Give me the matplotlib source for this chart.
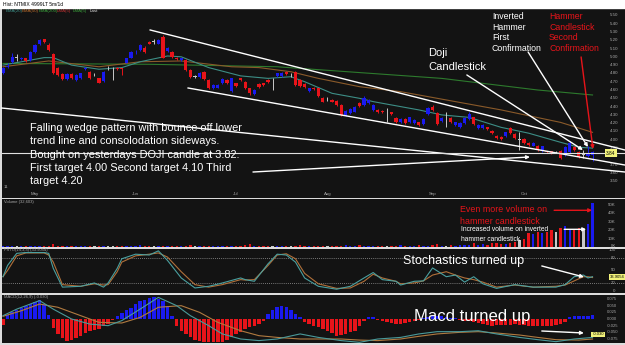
import matplotlib
matplotlib.use('Agg')
import matplotlib.pyplot as plt
from matplotlib.transforms import blended_transform_factory as btf

plt.rcParams['font.family'] = ['Liberation Sans', 'DejaVu Sans']

# ---------------- data ----------------
opens = [4.81,4.88,4.94,4.99,4.97,4.98,4.96,5.06,5.15,5.21,
 5.14,5.03,4.87,4.79,4.73,4.79,4.72,4.74,4.85,4.82,
 4.79,4.74,4.71,4.86,4.86,4.87,4.86,4.93,4.99,5.04,
 5.08,5.11,5.18,5.18,5.16,5.24,5.07,5.06,4.99,4.96,
 4.96,4.84,4.76,4.76,4.82,4.72,4.62,4.63,4.68,4.72,
 4.59,4.68,4.74,4.70,4.62,4.55,4.67,4.68,4.72,4.72,
 4.77,4.77,4.82,4.78,4.82,4.72,4.67,4.59,4.63,4.62,
 4.50,4.49,4.48,4.47,4.42,4.30,4.32,4.34,4.44,4.42,
 4.44,4.36,4.36,4.35,4.32,4.33,4.26,4.21,4.25,4.21,
 4.20,4.21,4.19,4.31,4.40,4.32,4.23,4.25,4.26,4.18,
 4.15,4.20,4.25,4.27,4.14,4.14,4.15,4.11,4.05,4.03,
 4.04,4.14,4.07,4.00,4.01,3.96,3.93,3.93,3.86,3.86,
 3.86,3.85,3.87,3.82,3.85,3.91,3.85,3.82,3.80,3.82]
closes = [4.86,4.89,5.00,4.99,4.99,4.95,5.06,5.14,5.20,5.18,
 5.08,4.80,4.78,4.73,4.79,4.74,4.78,4.80,4.87,4.74,
 4.79,4.69,4.82,4.86,4.86,4.85,4.85,4.98,5.06,5.05,
 5.14,5.06,5.16,5.18,5.20,4.99,5.11,5.00,4.97,4.98,
 4.84,4.76,4.76,4.81,4.73,4.62,4.66,4.66,4.73,4.68,
 4.74,4.65,4.72,4.62,4.56,4.60,4.64,4.66,4.70,4.72,
 4.80,4.81,4.79,4.78,4.66,4.65,4.64,4.62,4.61,4.53,
 4.46,4.49,4.46,4.42,4.30,4.35,4.37,4.40,4.41,4.50,
 4.48,4.42,4.33,4.33,4.32,4.31,4.21,4.25,4.20,4.27,
 4.24,4.18,4.25,4.38,4.36,4.19,4.26,4.25,4.21,4.21,
 4.20,4.26,4.31,4.19,4.18,4.18,4.13,4.08,4.02,4.01,
 4.09,4.08,4.02,4.00,3.96,3.94,3.96,3.88,3.92,3.85,
 3.84,3.85,3.78,3.91,3.96,3.88,3.79,3.82,3.83,3.85]
highs = [4.88,4.92,5.04,5.03,5.00,4.99,5.07,5.16,5.21,5.22,
 5.17,5.04,4.88,4.80,4.80,4.80,4.79,4.81,4.88,4.83,
 4.81,4.75,4.83,4.89,4.88,4.88,4.87,4.99,5.07,5.08,
 5.16,5.13,5.19,5.21,5.22,5.26,5.12,5.07,5.00,4.99,
 4.97,4.85,4.78,4.82,4.83,4.73,4.67,4.67,4.74,4.73,
 4.75,4.69,4.75,4.71,4.63,4.61,4.68,4.69,4.73,4.74,
 4.81,4.82,4.83,4.80,4.83,4.73,4.68,4.63,4.64,4.63,
 4.51,4.51,4.49,4.48,4.43,4.36,4.38,4.41,4.45,4.53,
 4.49,4.43,4.37,4.36,4.38,4.34,4.27,4.26,4.26,4.28,
 4.25,4.22,4.26,4.39,4.42,4.33,4.27,4.33,4.27,4.22,
 4.21,4.27,4.33,4.28,4.19,4.19,4.16,4.12,4.06,4.04,
 4.10,4.15,4.08,4.10,4.02,3.97,3.97,3.94,3.93,3.87,
 3.87,3.86,3.88,3.92,3.98,3.92,3.86,3.88,3.92,3.86]
lows = [4.79,4.86,4.93,4.95,4.96,4.94,4.95,5.05,5.14,5.17,
 5.07,4.79,4.77,4.72,4.72,4.73,4.71,4.73,4.84,4.73,
 4.77,4.68,4.70,4.84,4.72,4.84,4.78,4.92,4.98,5.03,
 5.07,5.05,5.15,5.16,5.15,4.98,5.06,4.99,4.96,4.95,
 4.83,4.75,4.74,4.75,4.72,4.61,4.61,4.62,4.67,4.67,
 4.58,4.64,4.71,4.61,4.54,4.54,4.63,4.65,4.69,4.60,
 4.76,4.76,4.78,4.76,4.65,4.64,4.63,4.58,4.60,4.52,
 4.45,4.47,4.45,4.41,4.29,4.29,4.31,4.33,4.40,4.41,
 4.43,4.35,4.32,4.32,4.22,4.30,4.20,4.20,4.19,4.20,
 4.19,4.17,4.18,4.30,4.35,4.18,4.22,4.15,4.20,4.17,
 4.14,4.19,4.24,4.18,4.13,4.13,4.12,4.07,4.01,4.00,
 4.03,4.07,4.01,3.88,3.95,3.93,3.92,3.87,3.85,3.84,
 3.83,3.84,3.77,3.81,3.84,3.87,3.78,3.78,3.79,3.75]

volume_k = [1.2,0.8,1.5,0.6,1.0,0.9,1.1,0.7,1.3,0.9,
 1.4,3.1,1.0,1.2,1.6,0.8,0.9,1.1,0.7,1.0,
 0.9,1.2,0.8,1.0,0.6,0.9,1.1,0.8,1.3,0.9,
 2.2,1.0,1.4,0.9,1.2,0.8,1.5,1.1,0.9,0.7,
 1.3,2.5,1.0,0.8,1.2,1.6,0.9,1.1,0.7,1.0,
 1.2,0.8,1.4,1.9,4.0,1.1,1.3,0.9,1.0,1.5,
 1.1,0.8,1.2,1.0,1.4,2.0,1.2,0.9,1.1,1.3,
 0.8,1.0,1.6,1.2,1.0,2.3,1.4,1.1,1.8,1.0,
 1.2,1.5,0.9,1.3,1.1,1.7,1.0,2.1,1.4,1.6,
 1.2,1.8,1.5,1.3,2.0,3.2,1.6,1.4,1.9,1.5,
 2.2,1.8,2.6,4.8,2.4,3.0,2.5,4.2,4.5,3.6,
 3.5,4.8,5.5,8.8,9.6,16.5,15.6,18.0,16.8,17.5,
 19.6,18.0,22.8,24.8,21.0,19.6,22.0,20.5,26.8,52.8]

# moving averages (bar index, price)
ema20_idx = [0, 9, 11, 15, 21, 26, 30, 36, 39, 45, 52, 58, 63, 66, 72, 78, 81, 87, 91, 96, 102, 109, 115, 122, 126, 129]
ema20_val = [4.90, 4.99, 4.99, 4.90, 4.85, 4.87, 4.94, 5.01, 5.00, 4.87, 4.77, 4.74, 4.76, 4.70, 4.56, 4.50, 4.46, 4.40, 4.36, 4.30, 4.27, 4.15, 4.08, 3.97, 3.91, 3.90]
ema50_idx = [0, 10, 21, 30, 39, 50, 56, 63, 69, 78, 87, 96, 109, 122, 129]
ema50_val = [4.88, 4.95, 4.88, 4.94, 4.95, 4.88, 4.87, 4.82, 4.74, 4.64, 4.58, 4.49, 4.36, 4.21, 4.09]
ema200_idx = [0, 32, 60, 96, 117, 129]
ema200_val = [4.92, 4.91, 4.88, 4.74, 4.60, 4.54]

# stochastics (bar index, %K, %D)
sto_idx = [0,1,3,5,9,10,11,13,17,20,22,23,25,26,29,32,34,36,39,42,45,48,52,53,55,58,60,62,64,66,
           69,73,76,79,81,83,86,87,90,92,94,97,99,101,103,105,108,112,116,121,123,125,127,128,129]
sto_k = [35,62,91,93,93,91,55,10,12,20,10,20,55,78,89,87,97,74,32,8,12,20,32,28,24,66,89,87,70,32,
         12,5,12,32,45,28,24,15,24,25,56,35,39,22,35,18,7,16,10,10,16,35,39,32,35]
sto_d = [35,50,85,92,92,87,70,16,12,18,15,16,47,70,85,89,92,82,47,16,10,16,28,27,28,62,87,90,78,43,
         18,7,8,24,41,32,24,18,20,25,39,47,39,32,28,22,10,15,10,12,15,25,35,35,33]

# MACD histogram per bar
macd_hist = [-0.022,0.015,0.028,0.035,0.043,0.05,0.056,0.065,0.072,0.055,
 0.015,-0.035,-0.058,-0.072,-0.081,-0.079,-0.073,-0.064,-0.052,-0.044,
 -0.040,-0.037,-0.027,-0.017,-0.004,0.012,0.024,0.034,0.043,0.056,
 0.066,0.073,0.078,0.081,0.076,0.067,0.048,0.01,-0.025,-0.046,
 -0.058,-0.069,-0.077,-0.083,-0.087,-0.088,-0.088,-0.086,-0.085,-0.078,
 -0.069,-0.058,-0.049,-0.038,-0.031,-0.025,-0.018,-0.006,0.02,0.035,
 0.045,0.05,0.045,0.032,0.02,0.006,-0.01,-0.018,-0.025,-0.031,
 -0.037,-0.046,-0.054,-0.062,-0.06,-0.056,-0.05,-0.044,-0.027,-0.008,
 0.006,0.009,-0.003,-0.008,-0.012,-0.015,-0.017,-0.019,-0.016,-0.012,
 -0.008,-0.005,0.004,0.009,0.012,0.011,0.01,0.007,0.005,0.003,
 -0.002,-0.006,-0.008,-0.01,-0.014,-0.018,-0.022,-0.025,-0.024,-0.023,
 -0.022,-0.021,-0.019,-0.021,-0.024,-0.025,-0.026,-0.027,-0.028,-0.027,
 -0.025,-0.023,-0.019,-0.01,0.008,0.012,0.012,0.01,0.011,0.015]
macd_idx = [0,3,8,11,15,19,23,26,30,34,38,41,45,48,52,56,60,65,69,74,78,82,87,91,95,100,104,108,113,117,121,125,129]
macd_line = [0.0125,0.037,0.069,0.037,0.0,-0.019,-0.025,-0.006,0.037,0.081,0.05,0.0125,-0.025,-0.056,-0.075,-0.081,-0.075,
             -0.056,-0.069,-0.081,-0.0875,-0.075,-0.069,-0.056,-0.0475,-0.0475,-0.044,-0.056,-0.069,-0.0775,-0.085,-0.075,-0.069]
sig_idx = [0,4,8,12,17,21,26,30,34,39,43,47,52,56,60,65,69,74,78,82,87,91,95,100,104,108,113,117,121,126,129]
sig_line = [0.01,0.031,0.056,0.044,0.0125,-0.0125,-0.015,0.006,0.044,0.05,0.025,-0.0125,-0.044,-0.0625,-0.069,-0.075,-0.075,
            -0.075,-0.079,-0.081,-0.075,-0.065,-0.056,-0.05,-0.0475,-0.0525,-0.06,-0.069,-0.0775,-0.079,-0.075]

month_idx = [7, 29, 51, 71, 94, 114]
month_labels = ['May', 'Jun', 'Jul', 'Aug', 'Sep', 'Oct']
price_ticks = [5.60,5.50,5.40,5.30,5.20,5.10,5.00,4.90,4.80,4.70,4.60,4.50,4.40,4.30,4.20,4.10,4.00,3.90,3.80,3.70,3.60,3.50]
vol_ticks = [50, 40, 30, 20, 10, 0]
sto_ticks = [100, 80, 50, 20, 0]
macd_ticks = [0.075, 0.050, 0.025, 0.0, -0.025, -0.050, -0.075]
last_price = 3.84

# trend lines (bar index, price)
wedge_top = ([32.2, 136.1], [5.323, 3.877])
wedge_bottom = ([40.5, 136.1], [4.624, 3.696])
long_line = ([-0.3, 136.1], [4.383, 3.612])

# ---------------- style ----------------
BG = '#131313'
RED = '#e8141a'
BLUE = '#1a1af0'
TEAL = '#3d8e86'
BROWN = '#8a5a2a'
GREEN = '#2d7a2d'
LBL = '#a8a8a8'

W, H = 625, 345
fig = plt.figure(figsize=(W/100, H/100), dpi=100, facecolor='#dcdcdc')

def rect(x0, y0, x1, y1):
    return [x0/W, 1 - y1/H, (x1 - x0)/W, (y1 - y0)/H]

X0, X1 = 2, 625
xlim = ((X0 - 3)/4.57, (X1 - 3)/4.57)

def mk(y0, y1):
    ax = fig.add_axes(rect(X0, y0, X1, y1))
    ax.set_facecolor(BG)
    ax.set_xlim(*xlim)
    ax.set_xticks([]); ax.set_yticks([])
    for s in ax.spines.values():
        s.set_visible(False)
    return ax

# top white strip with title
fig.patches.append(plt.Rectangle((0, 1 - 8/H), 1, 8/H, transform=fig.transFigure, color='white', zorder=0))
fig.text(3/W, 1 - 4/H, 'Hist: NTMIX 4999LT 5m/1d', fontsize=3.6, color='black', va='center', ha='left')

n = len(opens)
idx = list(range(n))
cols = [BLUE if c > o else (RED if c < o else '#c8c8c8') for o, c in zip(opens, closes)]

# ---------------- price panel ----------------
ax = mk(8, 198)
ax.set_ylim(5.60 - 191/83, 5.60 - 1/83)
tr = btf(ax.transAxes, ax.transData)

ax.plot(ema200_idx, ema200_val, color=GREEN, lw=0.8, zorder=2)
ax.plot(ema50_idx, ema50_val, color=BROWN, lw=0.8, zorder=2)
ax.plot(ema20_idx, ema20_val, color=TEAL, lw=0.8, zorder=2)

ax.vlines(idx, lows, highs, colors=cols, lw=0.7, zorder=3)
bot = [min(o, c) for o, c in zip(opens, closes)]
hgt = [max(abs(c - o), 0.006) for o, c in zip(opens, closes)]
ax.bar(idx, hgt, bottom=bot, width=0.7, color=cols, lw=0, zorder=4)

for xs, ys in (wedge_top, wedge_bottom, long_line):
    ax.plot(xs, ys, color='white', lw=1.0, zorder=5, clip_on=False)
ax.axhline(last_price, color='#e0e0e0', lw=0.8, zorder=5)

arr = dict(arrowstyle='-|>', color='white', lw=1.0, mutation_scale=5, shrinkA=0, shrinkB=0)
ax.annotate('', xy=(115.3, 3.793), xytext=(54.7, 3.612), arrowprops=arr, zorder=6)
ax.annotate('', xy=(126.9, 3.877), xytext=(101.5, 4.781), arrowprops=arr, zorder=6)
ax.annotate('', xy=(128.0, 3.913), xytext=(114.9, 5.058), arrowprops=arr, zorder=6)
ax.annotate('', xy=(129.1, 3.889), xytext=(126.5, 4.998),
            arrowprops=dict(arr, color=RED), zorder=6)

ax.text(5.9, 4.205, 'Falling wedge pattern with bounce off lower\ntrend line and consolodation sideways.\n'
        'Bought on yesterdays DOJI candle at 3.82.\nFirst target 4.00 Second target 4.10 Third\ntarget 4.20',
        color='white', fontsize=7.9, va='top', ha='left', linespacing=1.42, zorder=7)
ax.text(93, 5.11, 'Doji\nCandlestick', color='white', fontsize=8, va='top', ha='left', linespacing=1.5, zorder=7)
ax.text(107, 5.535, 'Inverted\nHammer\nFirst\nConfirmation', color='white', fontsize=6.3,
        va='top', ha='left', linespacing=1.2, zorder=7)
ax.text(119.5, 5.535, 'Hammer\nCandlestick\nSecond\nConfirmation', color=RED, fontsize=6.3,
        va='top', ha='left', linespacing=1.2, zorder=7)

# legend row
leg = [('EMA(20)', TEAL), ('EMA(50)', '#b86a2a'), ('EMA(200)', '#3aa03a'), ('LMA(5)', '#c03030'), ('LMA(5)', '#3aa03a'), ('Last', '#dddddd')]
lx = 0.5
for t, c in leg:
    ax.text(lx, 1 - 3/190, t, color=c, fontsize=3.2, va='center', ha='left', transform=btf(ax.transData, ax.transAxes))
    lx += 3.6 if len(t) <= 7 else 4.0

for p in price_ticks:
    ax.text(0.989, p, f'{p:.2f}', transform=tr, color=LBL, fontsize=3.2, ha='right', va='center')
ax.text(0.985, last_price, f'{last_price:.2f}', transform=tr, color='black', fontsize=3.4, ha='right', va='center',
        bbox=dict(boxstyle='square,pad=0.25', fc='#f2f27a', ec='none'), zorder=8)
for mi, ml in zip(month_idx, month_labels):
    ax.text(mi, 5.60 - 187/83, ml, color=LBL, fontsize=3.2, ha='center', va='center')
ax.text(0.003, 5.60 - 180/83, '11', transform=tr, color=LBL, fontsize=3.2, ha='left', va='center')

# ---------------- volume panel ----------------
av = mk(199, 247)
av.set_ylim(0, 57)
trv = btf(av.transAxes, av.transData)
av.bar(idx, volume_k, width=0.5, color=cols, lw=0)
av.text(0.003, 54, 'Volume (32,603)', transform=trv, color=LBL, fontsize=3.0, ha='left', va='center')
for v in vol_ticks:
    av.text(0.985, v + 1.5 if v == 0 else v, f'{v}K', transform=trv, color=LBL, fontsize=3.2, ha='right', va='center')
av.annotate('', xy=(128.9, 43.6), xytext=(120.6, 43.6), arrowprops=dict(arr, color=RED))
av.annotate('', xy=(127.6, 21), xytext=(122.8, 21), arrowprops=arr)
av.text(100, 49.5, 'Even more volume on\nhammer candlestick', color=RED, fontsize=6.4, ha='left', va='top', linespacing=1.4)
av.text(100.3, 24.5, 'Increased volume on inverted\nhammer candlestick', color='white', fontsize=4.8,
        ha='left', va='top', linespacing=1.45)

# ---------------- stochastics panel ----------------
ast = mk(249, 293)
ast.set_ylim((291.3 - 293)/0.417, (291.3 - 249)/0.417)
trs = btf(ast.transAxes, ast.transData)
for lvl in (80, 20):
    ast.axhline(lvl, color='#9a9a9a', lw=0.6, ls=(0, (1, 1.5)))
ast.plot(sto_idx, sto_d, color='#b0703a', lw=0.8)
ast.plot(sto_idx, sto_k, color='#4aa0a0', lw=0.8)
ast.text(0.003, 98, 'FSTO(14,3,3) (33.9054)', transform=trs, color=LBL, fontsize=3.0, ha='left', va='center')
for v in sto_ticks:
    ast.text(0.985, v, f'{v}', transform=trs, color=LBL, fontsize=3.2, ha='right', va='center')
ast.text(0.999, 34, '33.9054', transform=trs, color='black', fontsize=3.0, ha='right', va='center',
         bbox=dict(boxstyle='square,pad=0.2', fc='#f2f27a', ec='none'))
ast.text(87.5, 72, 'Stochastics turned up', color='white', fontsize=9, ha='left', va='center')
ast.annotate('', xy=(127.1, 34.3), xytext=(117.9, 60.7), arrowprops=arr)

# ---------------- MACD panel ----------------
am = mk(295, 343)
am.set_ylim(-0.09, 0.09)
trm = btf(am.transAxes, am.transData)
hc = [BLUE if v >= 0 else RED for v in macd_hist]
am.bar(idx, macd_hist, width=0.75, color=hc, lw=0)
am.plot(sig_idx, sig_line, color='#b07a40', lw=0.8)
am.plot(macd_idx, macd_line, color='#4a9a9a', lw=0.8)
am.text(0.003, 0.082, 'MACD(12,26,9) (-0.030)', transform=trm, color=LBL, fontsize=3.0, ha='left', va='center')
for v in macd_ticks:
    am.text(0.971, v, f'{v:.3f}', transform=trm, color=LBL, fontsize=3.0, ha='left', va='center')
am.text(0.966, -0.058, '-0.030', transform=trm, color='black', fontsize=3.0, ha='right', va='center',
        bbox=dict(boxstyle='square,pad=0.2', fc='#f2f27a', ec='none'))
am.text(89.9, 0.011, 'Macd turned up', color='white', fontsize=12, ha='left', va='center')
am.annotate('', xy=(127.1, -0.0525), xytext=(117.9, -0.045), arrowprops=arr)

fig.savefig('out.png', dpi=100, facecolor=fig.get_facecolor())
